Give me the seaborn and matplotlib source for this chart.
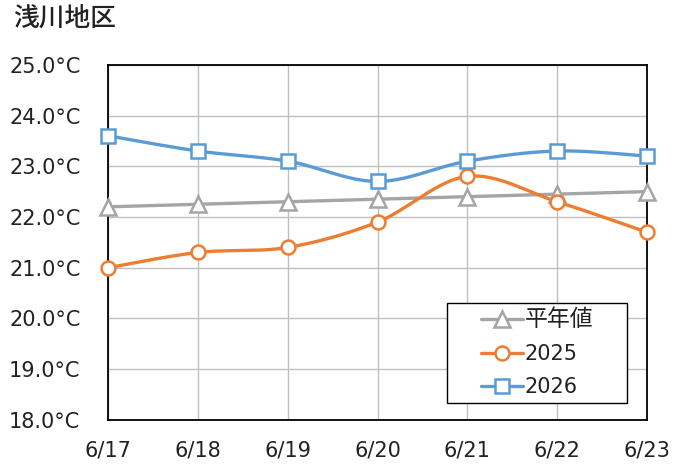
import numpy as np
import pandas as pd
import seaborn as sns
import matplotlib.pyplot as plt
from matplotlib.lines import Line2D
from matplotlib.patches import Rectangle

dates = ["6/17", "6/18", "6/19", "6/20", "6/21", "6/22", "6/23"]
normal = [22.2, 22.25, 22.3, 22.35, 22.4, 22.45, 22.5]
y2025 = [21.0, 21.3, 21.4, 21.9, 22.8, 22.3, 21.7]
y2026 = [23.6, 23.3, 23.1, 22.7, 23.1, 23.3, 23.2]
series_names = ["平年値", "2025", "2026"]
title = "浅川地区"


def smooth(xs, ys, n=30):
    # Excel-like smoothed line: cubic bezier with catmull-rom control points
    xs = np.asarray(xs, float)
    ys = np.asarray(ys, float)
    px = np.concatenate([[xs[0]], xs, [xs[-1]]])
    py = np.concatenate([[ys[0]], ys, [ys[-1]]])
    outx, outy = [], []
    t = np.linspace(0, 1, n)
    for i in range(1, len(px) - 2):
        p0 = np.array([px[i], py[i]])
        p3 = np.array([px[i + 1], py[i + 1]])
        c1 = p0 + (np.array([px[i + 1], py[i + 1]]) - np.array([px[i - 1], py[i - 1]])) / 6
        c2 = p3 - (np.array([px[i + 2], py[i + 2]]) - np.array([px[i], py[i]])) / 6
        b = ((1 - t) ** 3)[:, None] * p0 + (3 * (1 - t) ** 2 * t)[:, None] * c1 \
            + (3 * (1 - t) * t ** 2)[:, None] * c2 + (t ** 3)[:, None] * p3
        outx.extend(b[:, 0])
        outy.extend(b[:, 1])
    return np.array(outx), np.array(outy)


sns.set_style("white")
plt.rcParams["font.family"] = ["DejaVu Sans", "Noto Sans CJK JP"]

fig = plt.figure(figsize=(6.89, 4.66), dpi=100)
ax = fig.add_axes([0.157, 0.099, 0.782, 0.762])

x = np.arange(len(dates))
styles = [
    (normal, "#A5A5A5", "^", 11),
    (y2025, "#ED7D31", "o", 10),
    (y2026, "#5B9BD5", "s", 10),
]
handles = []
for (vals, color, marker, ms), name in zip(styles, series_names):
    sx, sy = smooth(x, vals)
    sns.lineplot(x=sx, y=sy, ax=ax, color=color, linewidth=2.4, sort=False,
                 estimator=None, zorder=3)
    ax.plot(x, vals, ls="none", marker=marker, markersize=ms, markerfacecolor="white",
            markeredgecolor=color, markeredgewidth=1.8, zorder=4, clip_on=False)
    handles.append(Line2D([], [], color=color, linewidth=2.4, marker=marker,
                          markersize=ms, markerfacecolor="white",
                          markeredgecolor=color, markeredgewidth=1.8))

ax.set_xlim(0, len(dates) - 1)
ax.set_ylim(18, 25)
ax.set_xticks(x)
ax.set_xticklabels(dates)
yt = np.arange(18, 26)
ax.set_yticks(yt)
ax.set_yticklabels([f"{v:.1f}°C" for v in yt])
ax.tick_params(axis="both", length=0, labelsize=15, colors="#222222")
ax.tick_params(axis="y", pad=20)
ax.tick_params(axis="x", pad=15)
ax.grid(True, color="#BFBFBF", linewidth=1.0)
for s in ax.spines.values():
    s.set_color("black")
    s.set_linewidth(1.3)
ax.set_xlabel("")
ax.set_ylabel("")

# legend box
box = (0.629, 0.048, 0.334, 0.282)
ax.add_patch(Rectangle(box[:2], box[2], box[3], transform=ax.transAxes, facecolor="white",
                       edgecolor="black", linewidth=1.0, zorder=5))
leg = ax.legend(handles, series_names, loc="center", bbox_to_anchor=box,
                fontsize=15, frameon=False, handlelength=2.0, handletextpad=0.1,
                borderpad=0.2, labelspacing=0.62)
leg.set_zorder(6)
for t in leg.get_texts():
    t.set_color("#222222")
leg.get_texts()[0].set_fontsize(16.5)

fig.text(0.019, 0.957, title, fontsize=18.5, fontweight="medium", color="#222222",
         ha="left", va="center")

fig.savefig("out.png", dpi=100)
plt.close(fig)
